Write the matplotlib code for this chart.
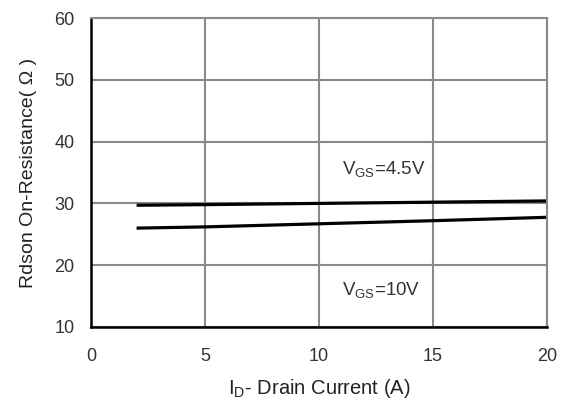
import matplotlib
matplotlib.use("Agg")
import matplotlib.pyplot as plt

plt.rcParams['font.family'] = ['Liberation Sans', 'DejaVu Sans']
plt.rcParams['mathtext.fontset'] = 'custom'
plt.rcParams['mathtext.rm'] = 'Liberation Sans'

# drain current (A) and on-resistance (mOhm) read per gate voltage
current = [2, 5, 10, 15, 20]
rds_45v = [29.7, 29.8, 30.0, 30.2, 30.4]
rds_10v = [26.0, 26.2, 26.7, 27.2, 27.75]

x_ticks = [0, 5, 10, 15, 20]
y_ticks = [10, 20, 30, 40, 50, 60]

fig = plt.figure(figsize=(5.66, 4.03), dpi=100)
ax = fig.add_axes([0.1608, 0.1886, 0.8056, 0.7667])

ax.plot(current, rds_45v, color='black', lw=2.3, solid_capstyle='butt')
ax.plot(current, rds_10v, color='black', lw=2.3, solid_capstyle='butt')

ax.set_xlim(0, 20)
ax.set_ylim(10, 60)
ax.set_xticks(x_ticks)
ax.set_yticks(y_ticks)
ax.grid(True, color='#8a8a8a', lw=1.5)
ax.set_axisbelow(True)
ax.tick_params(length=0, labelsize=13, labelcolor='#333333')
ax.tick_params(axis='x', pad=15)
ax.tick_params(axis='y', pad=12)

for side in ['top', 'right']:
    ax.spines[side].set_color('#8a8a8a')
    ax.spines[side].set_linewidth(1.5)
for side in ['left', 'bottom']:
    ax.spines[side].set_color('black')
    ax.spines[side].set_linewidth(1.8)

ax.text(11.0, 35.6, r'V$\mathregular{_{GS}}$=4.5V', fontsize=13.5, color='#333333', va='center')
ax.text(11.0, 16.0, r'V$\mathregular{_{GS}}$=10V', fontsize=13.5, color='#333333', va='center')

ax.set_xlabel(r'I$\mathregular{_D}$- Drain Current (A)', fontsize=14.5, color='#222222', labelpad=9)
ax.set_ylabel('Rdson On-Resistance( Ω )', fontsize=14, color='#222222', labelpad=12)

fig.savefig('out.png', dpi=100)
